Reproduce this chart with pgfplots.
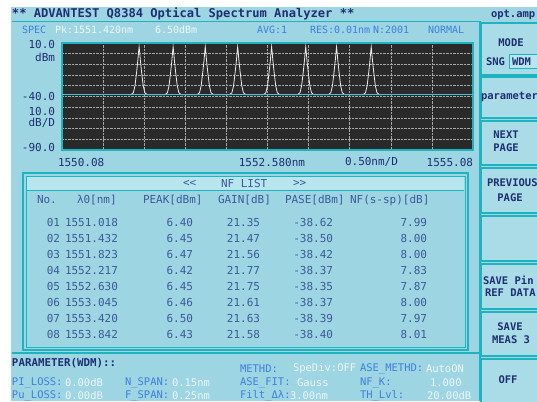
\documentclass[border=0pt]{standalone}
\usepackage{pgfplots}
\pgfplotsset{compat=1.18}
\usepackage{fontspec}
\newfontfamily\scr{DejaVu Sans Mono}
\definecolor{scrbg}{HTML}{9DD5E2}
\definecolor{frame}{HTML}{1DB4C0}
\definecolor{navy}{HTML}{1E2F72}
\definecolor{slate}{HTML}{3D5A98}
\definecolor{lblue}{HTML}{3F7FE0}
\definecolor{hilite}{HTML}{EEF6FA}
\definecolor{plotbg}{HTML}{2A2A2A}
\definecolor{bar}{HTML}{B8E5EE}
\definecolor{btn}{HTML}{A9DCE7}
\definecolor{floor}{HTML}{3CC8D8}

\begin{document}
\begin{tikzpicture}[x=1pt,y=1pt,
  every node/.style={inner sep=0pt, outer sep=0pt, font=\scr\fontsize{11}{11}\selectfont},
  sm/.style={font=\scr\fontsize{10}{10}\selectfont},
  bt/.style={font=\scr\bfseries\fontsize{10.5}{11}\selectfont, text=navy},
  button/.style={fill=btn, draw=frame, line width=1.5pt}]
\path[use as bounding box] (0,0) rectangle (537,401);
\clip (0,0) rectangle (537,401);
\fill[white] (0,0) rectangle (537,401);
\fill[scrbg] (11,0) rectangle (537,394);

% title and header
\node[anchor=west, text=navy, font=\scr\bfseries\fontsize{12.1}{12}\selectfont] at (12,387) {** ADVANTEST Q8384 Optical Spectrum Analyzer **};
\node[anchor=west, bt] at (491,386) {opt.amp};
\draw[frame, line width=1pt] (12,379) -- (480,379);
\node[anchor=west, sm, text=lblue] at (22,371) {SPEC};
\node[anchor=west, sm, text=hilite] at (55,371) {Pk:1551.420nm};
\node[anchor=west, sm, text=hilite] at (155,371) {6.50dBm};
\node[anchor=west, sm, text=lblue] at (257,371) {AVG:1};
\node[anchor=west, sm, text=lblue] at (310,371) {RES:0.01nm};
\node[anchor=west, sm, text=lblue] at (373,371) {N:2001};
\node[anchor=west, sm, text=lblue] at (428,371) {NORMAL};

% spectrum
\begin{axis}[at={(62pt,251pt)}, anchor=south west, scale only axis,
  width=411pt, height=107pt,
  xmin=1550.08, xmax=1555.08, ymin=-90, ymax=10,
  xtick={1550.58,1551.08,1551.58,1552.08,1552.58,1553.08,1553.58,1554.08,1554.58},
  ytick={-80,-70,...,0},
  xticklabel=\empty, yticklabel=\empty, major tick length=0pt,
  grid=major, major grid style={gray!70, densely dotted, line width=0.6pt},
  axis background/.style={fill=plotbg},
  axis line style={frame, line width=1.2pt}]
\addplot[color=gray!15, line width=0.8pt] table {
1550.880 -38.3
1550.918 -38.3
1550.948 -36.5
1550.968 -30
1550.988 -17
1551.003 -6
1551.012 2
1551.018 6.40
1551.024 2
1551.033 -6
1551.048 -17
1551.068 -30
1551.088 -36.5
1551.118 -38.3
1551.332 -38.3
1551.362 -36.5
1551.382 -30
1551.402 -17
1551.417 -6
1551.426 2
1551.432 6.45
1551.438 2
1551.447 -6
1551.462 -17
1551.482 -30
1551.502 -36.5
1551.532 -38.3
1551.723 -38.3
1551.753 -36.5
1551.773 -30
1551.793 -17
1551.808 -6
1551.817 2
1551.823 6.47
1551.829 2
1551.838 -6
1551.853 -17
1551.873 -30
1551.893 -36.5
1551.923 -38.3
1552.117 -38.3
1552.147 -36.5
1552.167 -30
1552.187 -17
1552.202 -6
1552.211 2
1552.217 6.42
1552.223 2
1552.232 -6
1552.247 -17
1552.267 -30
1552.287 -36.5
1552.317 -38.3
1552.530 -38.3
1552.560 -36.5
1552.580 -30
1552.600 -17
1552.615 -6
1552.624 2
1552.630 6.45
1552.636 2
1552.645 -6
1552.660 -17
1552.680 -30
1552.700 -36.5
1552.730 -38.3
1552.945 -38.3
1552.975 -36.5
1552.995 -30
1553.015 -17
1553.030 -6
1553.039 2
1553.045 6.46
1553.051 2
1553.060 -6
1553.075 -17
1553.095 -30
1553.115 -36.5
1553.145 -38.3
1553.320 -38.3
1553.350 -36.5
1553.370 -30
1553.390 -17
1553.405 -6
1553.414 2
1553.420 6.50
1553.426 2
1553.435 -6
1553.450 -17
1553.470 -30
1553.490 -36.5
1553.520 -38.3
1553.742 -38.3
1553.772 -36.5
1553.792 -30
1553.812 -17
1553.827 -6
1553.836 2
1553.842 6.43
1553.848 2
1553.857 -6
1553.872 -17
1553.892 -30
1553.912 -36.5
1553.942 -38.3
1553.980 -38.3
};
\addplot[color=floor, line width=1pt] coordinates {(1550.08,-38) (1555.08,-38)};
\end{axis}

% axis labels
\begin{scope}[text=navy]
\node[anchor=east] at (55,356) {10.0};
\node[anchor=east] at (55,344) {dBm};
\node[anchor=east] at (55,304) {-40.0};
\node[anchor=east] at (55,289) {10.0};
\node[anchor=east] at (55,278) {dB/D};
\node[anchor=east] at (55,253) {-90.0};
\node[anchor=west] at (58,239) {1550.08};
\node[anchor=east] at (305,239) {1552.580nm};
\node[anchor=west] at (345,239) {0.50nm/D};
\node[anchor=east] at (473,239) {1555.08};
\end{scope}

% table
\draw[frame, line width=1.2pt] (23,51) rectangle (468,228);
\draw[frame, line width=0.6pt] (26,54) rectangle (465,225);
\fill[bar] (27,210) rectangle (464,224);
\draw[frame, line width=1pt] (27,210) -- (464,210);
\begin{scope}[text=slate]
\node[anchor=west] at (183,218) {<<};
\node[anchor=west] at (221,218) {NF LIST};
\node[anchor=west] at (293,218) {>>};
\node[anchor=west] at (37,201) {No.};
\node[anchor=west] at (77,201) {λ0[nm]};
\node[anchor=west] at (143,201) {PEAK[dBm]};
\node[anchor=west] at (218,201) {GAIN[dB]};
\node[anchor=west] at (285,201) {PASE[dBm]};
\node[anchor=west] at (350,201) {NF(s-sp)[dB]};
\foreach \i/\n/\l/\p/\g/\a/\f in {
  0/01/1551.018/6.40/21.35/-38.62/7.99,
  1/02/1551.432/6.45/21.47/-38.50/8.00,
  2/03/1551.823/6.47/21.56/-38.42/8.00,
  3/04/1552.217/6.42/21.77/-38.37/7.83,
  4/05/1552.630/6.45/21.75/-38.35/7.87,
  5/06/1553.045/6.46/21.61/-38.37/8.00,
  6/07/1553.420/6.50/21.63/-38.39/7.97,
  7/08/1553.842/6.43/21.58/-38.40/8.01} {
  \pgfmathsetmacro{\yy}{179-16.1*\i}
  \node[anchor=east] at (60,\yy) {\n};
  \node[anchor=west] at (65,\yy) {\l};
  \node[anchor=east] at (193,\yy) {\p};
  \node[anchor=east] at (260,\yy) {\g};
  \node[anchor=east] at (333,\yy) {\a};
  \node[anchor=east] at (427,\yy) {\f};
}
\end{scope}

% parameter area
\draw[frame, line width=2.5pt] (12,48) -- (480,48);
\node[anchor=west, bt, font=\scr\bfseries\fontsize{10.8}{11}\selectfont] at (12,38) {PARAMETER(WDM)::};
\begin{scope}[every node/.append style={font=\scr\fontsize{10.5}{11}\selectfont}]
\node[anchor=west, text=lblue] at (12,18) {PI\_LOSS:};
\node[anchor=west, text=hilite] at (65,18) {0.00dB};
\node[anchor=west, text=lblue] at (12,5) {Pu\_LOSS:};
\node[anchor=west, text=hilite] at (65,5) {0.00dB};
\node[anchor=west, text=lblue] at (125,18) {N\_SPAN:};
\node[anchor=west, text=hilite] at (172,18) {0.15nm};
\node[anchor=west, text=lblue] at (125,5) {F\_SPAN:};
\node[anchor=west, text=hilite] at (172,5) {0.25nm};
\node[anchor=west, text=lblue] at (240,32) {METHD:};
\node[anchor=west, text=hilite] at (293,32) {SpeDiv:OFF};
\node[anchor=west, text=lblue] at (360,32) {ASE\_METHD:};
\node[anchor=west, text=hilite] at (426,32) {AutoON};
\node[anchor=west, text=lblue] at (240,18) {ASE\_FIT:};
\node[anchor=west, text=hilite] at (297,18) {Gauss};
\node[anchor=west, text=lblue] at (360,18) {NF\_K:};
\node[anchor=west, text=hilite] at (430,18) {1.000};
\node[anchor=west, text=lblue] at (240,5) {Filt\_Δλ:};
\node[anchor=west, text=hilite] at (290,5) {3.00nm};
\node[anchor=west, text=lblue] at (360,5) {TH\_Lvl:};
\node[anchor=west, text=hilite] at (427,5) {20.00dB};
\end{scope}

% soft keys
\draw[frame, line width=1.5pt] (480,0) -- (480,380);
\draw[button] (481,326) rectangle (545,378);
\draw[button] (481,283) rectangle (545,324);
\draw[button] (481,236) rectangle (545,280);
\draw[button] (481,188) rectangle (545,233);
\draw[button] (481,140) rectangle (545,185);
\draw[button] (481,92) rectangle (545,137);
\draw[button] (481,45) rectangle (545,89);
\draw[button] (481,-5) rectangle (545,42);
\draw[frame, fill=bar, line width=1pt] (509,332) rectangle (545,346);
\node[bt] at (511,358) {MODE};
\node[anchor=west, bt] at (486,339) {SNG};
\node[anchor=west, bt] at (512,339) {WDM};
\node[anchor=west, bt] at (481,304) {parameter};
\node[bt] at (506,266) {NEXT};
\node[bt] at (506,253) {PAGE};
\node[anchor=west, bt] at (487,218) {PREVIOUS};
\node[bt] at (510,203) {PAGE};
\node[anchor=west, bt] at (483,121) {SAVE Pin};
\node[anchor=west, bt] at (485,108) {REF DATA};
\node[bt] at (510,74) {SAVE};
\node[bt] at (511,61) {MEAS 3};
\node[bt] at (508,21) {OFF};
\end{tikzpicture}
\end{document}
